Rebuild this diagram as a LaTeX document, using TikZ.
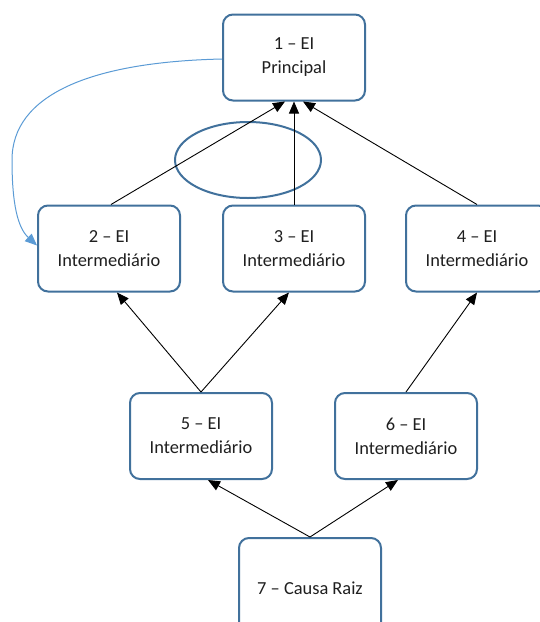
\documentclass[tikz,border=0pt]{standalone}
\usepackage{fontspec}
\setmainfont{Carlito}
\usetikzlibrary{arrows.meta,calc,shapes.geometric}
\definecolor{boxline}{HTML}{41719C}
\definecolor{curveblue}{HTML}{5B9BD5}
\begin{document}
\begin{tikzpicture}[x=1pt,y=-1pt,
  eibox/.style={draw=boxline, line width=2pt, rounded corners=10pt, fill=white,
    minimum width=142pt, minimum height=86pt, align=center, inner sep=0pt,
    font=\fontsize{18.4}{24}\selectfont, text=black!88},
  conn/.style={line width=0.9pt, -{Triangle[length=12pt,width=10pt]}},
  loopbk/.style={draw=curveblue, line width=1pt, -{Triangle[length=12pt,width=10pt]}}]
\useasboundingbox (0,0) rectangle (539,622);
\node[eibox] (b1) at (294,57.5) {1 -- EI\\Principal};
\node[eibox] (b2) at (109,248.5) {2 -- EI\\Intermediário};
\node[eibox] (b3) at (294,248.5) {3 -- EI\\Intermediário};
\node[eibox] (b4) at (477,248.5) {4 -- EI\\Intermediário};
\node[eibox] (b5) at (201,436) {5 -- EI\\Intermediário};
\node[eibox] (b6) at (406,436) {6 -- EI\\Intermediário};
\node[eibox, minimum height=100pt] (b7) at (310,588) {7 -- Causa Raiz};
\node[draw=boxline, line width=2pt, ellipse, minimum width=146pt, minimum height=76pt, inner sep=0pt] (ell) at (248,160) {};
% arrows to box 1
\draw[conn] ([xshift=2pt]b2.north) -- ([xshift=-9pt]b1.south);
\draw[conn] (b3.north) -- (b1.south);
\draw[conn] (b4.north) -- ([xshift=9pt]b1.south);
% arrows from 5 and 6
\draw[conn] (b5.north) -- ([xshift=8pt]b2.south);
\draw[conn] (b5.north) -- ([xshift=-5pt]b3.south);
\draw[conn] (b6.north) -- (b4.south);
% arrows from 7
\draw[conn] (b7.north) -- ([xshift=7pt]b5.south);
\draw[conn] (b7.north) -- ([xshift=-8pt]b6.south);
% blue feedback curve
\draw[loopbk] ([yshift=-1.5pt]b1.west) .. controls (90,62) and (12,95) .. (12,160)
  .. controls (12,205) and (18,228) .. ([yshift=3pt]b2.west);
\end{tikzpicture}
\end{document}
